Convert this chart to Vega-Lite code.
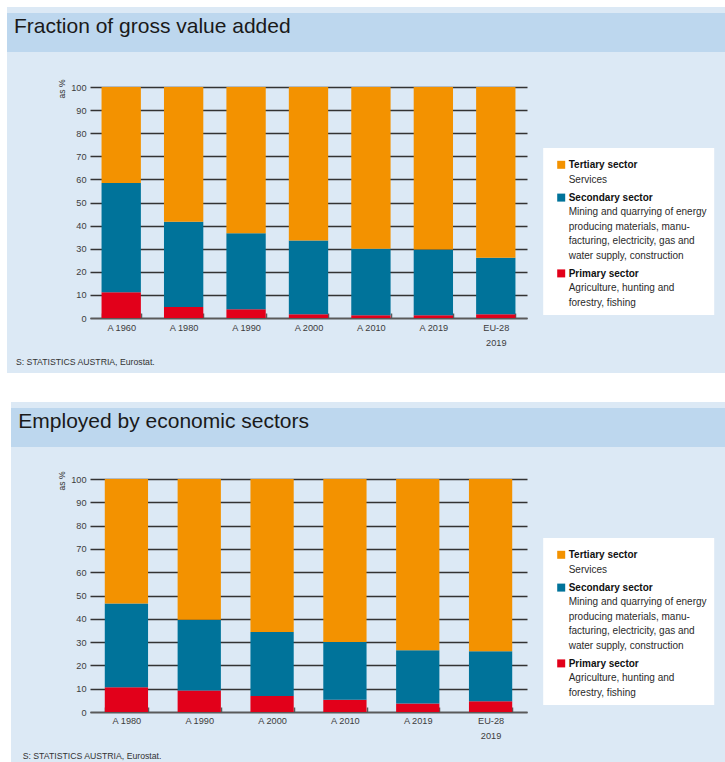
{
  "$schema": "https://vega.github.io/schema/vega-lite/v6.json",
  "background": "#dce9f5",
  "padding": 0,
  "bounds": "flush",
  "spacing": 0,
  "columns": 4,
  "resolve": {"scale": {"color": "independent", "opacity": "independent"}, "legend": {"color": "independent", "opacity": "independent"}},
  "config": {"view": {"stroke": null}, "font": "Liberation Sans"},
  "datasets": {
    "gva": [
      {"period": "A 1960", "sector": "Primary sector", "value": 11.1},
      {"period": "A 1960", "sector": "Secondary sector", "value": 47.3},
      {"period": "A 1960", "sector": "Tertiary sector", "value": 41.6},
      {"period": "A 1980", "sector": "Primary sector", "value": 4.8},
      {"period": "A 1980", "sector": "Secondary sector", "value": 36.9},
      {"period": "A 1980", "sector": "Tertiary sector", "value": 58.3},
      {"period": "A 1990", "sector": "Primary sector", "value": 3.8},
      {"period": "A 1990", "sector": "Secondary sector", "value": 32.9},
      {"period": "A 1990", "sector": "Tertiary sector", "value": 63.3},
      {"period": "A 2000", "sector": "Primary sector", "value": 1.6},
      {"period": "A 2000", "sector": "Secondary sector", "value": 31.9},
      {"period": "A 2000", "sector": "Tertiary sector", "value": 66.5},
      {"period": "A 2010", "sector": "Primary sector", "value": 1.2},
      {"period": "A 2010", "sector": "Secondary sector", "value": 28.8},
      {"period": "A 2010", "sector": "Tertiary sector", "value": 70.0},
      {"period": "A 2019", "sector": "Primary sector", "value": 1.2},
      {"period": "A 2019", "sector": "Secondary sector", "value": 28.4},
      {"period": "A 2019", "sector": "Tertiary sector", "value": 70.4},
      {"period": "EU-28 2019", "sector": "Primary sector", "value": 1.6},
      {"period": "EU-28 2019", "sector": "Secondary sector", "value": 24.5},
      {"period": "EU-28 2019", "sector": "Tertiary sector", "value": 73.9}
    ],
    "emp": [
      {"period": "A 1980", "sector": "Primary sector", "value": 10.6},
      {"period": "A 1980", "sector": "Secondary sector", "value": 36.0},
      {"period": "A 1980", "sector": "Tertiary sector", "value": 53.4},
      {"period": "A 1990", "sector": "Primary sector", "value": 9.2},
      {"period": "A 1990", "sector": "Secondary sector", "value": 30.4},
      {"period": "A 1990", "sector": "Tertiary sector", "value": 60.4},
      {"period": "A 2000", "sector": "Primary sector", "value": 6.9},
      {"period": "A 2000", "sector": "Secondary sector", "value": 27.4},
      {"period": "A 2000", "sector": "Tertiary sector", "value": 65.7},
      {"period": "A 2010", "sector": "Primary sector", "value": 5.3},
      {"period": "A 2010", "sector": "Secondary sector", "value": 24.7},
      {"period": "A 2010", "sector": "Tertiary sector", "value": 70.0},
      {"period": "A 2019", "sector": "Primary sector", "value": 3.7},
      {"period": "A 2019", "sector": "Secondary sector", "value": 22.8},
      {"period": "A 2019", "sector": "Tertiary sector", "value": 73.5},
      {"period": "EU-28 2019", "sector": "Primary sector", "value": 4.6},
      {"period": "EU-28 2019", "sector": "Secondary sector", "value": 21.5},
      {"period": "EU-28 2019", "sector": "Tertiary sector", "value": 73.9}
    ],
    "sectors": [
      {"sector": "Tertiary sector", "desc": "Services"},
      {"sector": "Secondary sector", "desc": "Mining and quarrying of energy producing materials, manufacturing, electricity, gas and water supply, construction"},
      {"sector": "Primary sector", "desc": "Agriculture, hunting and forestry, fishing"}
    ],
    "titles": [
      {"panel": "gva", "title": "Fraction of gross value added", "source": "S: STATISTICS AUSTRIA, Eurostat."},
      {"panel": "emp", "title": "Employed by economic sectors", "source": "S: STATISTICS AUSTRIA, Eurostat."}
    ]
  },
  "concat": [
    {"width": 7, "height": 7, "view": {"fill": "white", "stroke": null}, "data": {"values": []}, "mark": "rect"},
    {"width": 4, "height": 7, "view": {"fill": "white", "stroke": null}, "data": {"values": []}, "mark": "rect"},
    {"width": 79, "height": 7, "view": {"fill": "white", "stroke": null}, "data": {"values": []}, "mark": "rect"},
    {"width": 635, "height": 7, "view": {"fill": "white", "stroke": null}, "data": {"values": []}, "mark": "rect"},

    {"width": 7, "height": 6, "view": {"fill": "white", "stroke": null}, "data": {"values": []}, "mark": "rect"},
    {"width": 4, "height": 6, "data": {"values": []}, "mark": "rect"},
    {"width": 79, "height": 6, "data": {"values": []}, "mark": "rect"},
    {"width": 635, "height": 6, "data": {"values": []}, "mark": "rect"},

    {"width": 7, "height": 39, "view": {"fill": "white", "stroke": null}, "data": {"values": []}, "mark": "rect"},
    {"width": 4, "height": 39, "view": {"fill": "#bdd7ee", "stroke": null}, "data": {"values": []}, "mark": "rect"},
    {"width": 79, "height": 39, "view": {"fill": "#bdd7ee", "stroke": null}, "data": {"values": []}, "mark": "rect"},
    {
      "width": 635, "height": 39, "view": {"fill": "#bdd7ee", "stroke": null},
      "data": {"name": "titles"},
      "transform": [{"filter": "datum.panel == 'gva'"}],
      "mark": {"type": "text", "align": "left", "baseline": "alphabetic", "font": "Liberation Sans", "fontSize": 21, "color": "#1a1a1a", "dx": -76, "dy": 0.5},
      "encoding": {
        "x": {"datum": 0, "type": "quantitative", "scale": {"domain": [0, 1]}, "axis": null},
        "text": {"field": "title"}
      }
    },

    {"width": 7, "height": 35, "view": {"fill": "white", "stroke": null}, "data": {"values": []}, "mark": "rect"},
    {"width": 4, "height": 35, "data": {"values": []}, "mark": "rect"},
    {"width": 79, "height": 35, "data": {"values": []}, "mark": "rect"},
    {"width": 635, "height": 35, "data": {"values": []}, "mark": "rect"},

    {"width": 7, "height": 231, "view": {"fill": "white", "stroke": null}, "data": {"values": []}, "mark": "rect"},
    {"width": 4, "height": 231, "data": {"values": []}, "mark": "rect"},
    {"width": 79, "height": 231, "data": {"values": []}, "mark": "rect"},
    {
      "width": 437, "height": 231,
      "data": {"name": "gva"},
      "transform": [{"lookup": "sector", "from": {"data": {"name": "sectors"}, "key": "sector", "fields": ["desc"]}}],
      "mark": {"type": "bar"},
      "encoding": {
        "x": {"field": "period", "type": "nominal", "sort": null,
          "scale": {"paddingInner": 0.37, "paddingOuter": 0.185},
          "axis": {"title": null, "tickBand": "extent", "domainColor": "#5a5a5a", "domainWidth": 1.5, "tickColor": "#5a5a5a", "tickWidth": 1.5, "tickSize": -5, "labelPadding": 10, "labelAngle": 0, "labelFont": "Liberation Sans", "labelFontSize": 9.2, "labelColor": "#3c3c3c", "labelLineHeight": 15, "labelExpr": "datum.label == 'EU-28 2019' ? ['EU-28', '2019'] : datum.label", "grid": false}},
        "y": {"field": "value", "type": "quantitative", "stack": "zero",
          "scale": {"domain": [0, 100], "nice": false},
          "axis": {"title": "as %", "titleAngle": 270, "titleX": -29, "titleY": 1.5, "titleAlign": "center", "titleBaseline": "middle", "titleFont": "Liberation Sans", "titleFontSize": 8.5, "titleFontWeight": "normal", "titleColor": "#333", "values": [0, 10, 20, 30, 40, 50, 60, 70, 80, 90, 100], "domain": false, "ticks": false, "grid": true, "gridColor": "#333", "gridWidth": 1.3, "labelPadding": 4, "labelFont": "Liberation Sans", "labelFontSize": 9.2, "labelColor": "#3c3c3c"}},
        "color": {"field": "sector", "type": "nominal",
          "scale": {"domain": ["Tertiary sector", "Secondary sector", "Primary sector"], "range": ["#f39200", "#00739a", "#e2001a"]},
          "legend": {"title": null, "orient": "none", "legendX": 453.2, "legendY": 61, "direction": "vertical", "padding": 7, "rowPadding": 2.8, "symbolType": "M-1,0.2H1V2.2H-1Z", "symbolSize": 64, "symbolOffset": 6, "symbolStrokeWidth": 0, "labelOffset": 2.5, "labelFont": "Liberation Sans", "labelFontSize": 10, "labelFontWeight": "bold", "labelBaseline": "top", "labelColor": "#111", "labelLimit": 400, "zindex": 1,
            "encode": {"labels": {"update": {"lineHeight": {"value": 14.5}}}},
            "labelExpr": "datum.label == 'Tertiary sector' ? ['Tertiary sector', ' '] : datum.label == 'Secondary sector' ? ['Secondary sector', ' ', ' ', ' ', ' '] : ['Primary sector', ' ', ' ']"}},
        "opacity": {"field": "desc", "type": "nominal",
          "scale": {"domain": ["Services", "Mining and quarrying of energy producing materials, manufacturing, electricity, gas and water supply, construction", "Agriculture, hunting and forestry, fishing"], "range": [1, 1]},
          "legend": {"title": null, "orient": "none", "legendX": 453.2, "legendY": 61, "direction": "vertical", "padding": 7, "rowPadding": 2.8, "fillColor": "white", "symbolType": "M0,0Z", "symbolSize": 64, "symbolOffset": 6, "symbolStrokeWidth": 0, "symbolFillColor": "transparent", "symbolStrokeColor": "transparent", "labelOffset": 2.5, "labelFont": "Liberation Sans", "labelFontSize": 10, "labelBaseline": "top", "labelColor": "#2a2a2a", "labelLimit": 400, "zindex": 0,
            "encode": {"labels": {"update": {"lineHeight": {"value": 14.5}}}},
            "labelExpr": "datum.label == 'Services' ? [' ', 'Services'] : datum.label == 'Agriculture, hunting and forestry, fishing' ? [' ', 'Agriculture, hunting and', 'forestry, fishing'] : [' ', 'Mining and quarrying of energy', 'producing materials, manu-', 'facturing, electricity, gas and', 'water supply, construction']"}},
        "order": {"field": "sector", "sort": "ascending"}
      }
    },

    {"width": 7, "height": 55, "view": {"fill": "white", "stroke": null}, "data": {"values": []}, "mark": "rect"},
    {
      "width": 4, "height": 55,
      "data": {"name": "titles"},
      "transform": [{"filter": "datum.panel == 'gva'"}],
      "mark": {"type": "text", "align": "left", "baseline": "middle", "font": "Liberation Sans", "fontSize": 8.7, "color": "#333", "dx": 9, "dy": 16.5},
      "encoding": {
        "x": {"datum": 0, "type": "quantitative", "scale": {"domain": [0, 1]}, "axis": null},
        "text": {"field": "source"}
      }
    },
    {"width": 79, "height": 55, "data": {"values": []}, "mark": "rect"},
    {"width": 635, "height": 55, "data": {"values": []}, "mark": "rect"},

    {"width": 7, "height": 29, "view": {"fill": "white", "stroke": null}, "data": {"values": []}, "mark": "rect"},
    {"width": 4, "height": 29, "view": {"fill": "white", "stroke": null}, "data": {"values": []}, "mark": "rect"},
    {"width": 79, "height": 29, "view": {"fill": "white", "stroke": null}, "data": {"values": []}, "mark": "rect"},
    {"width": 635, "height": 29, "view": {"fill": "white", "stroke": null}, "data": {"values": []}, "mark": "rect"},

    {"width": 7, "height": 6, "view": {"fill": "white", "stroke": null}, "data": {"values": []}, "mark": "rect"},
    {"width": 4, "height": 6, "view": {"fill": "white", "stroke": null}, "data": {"values": []}, "mark": "rect"},
    {"width": 79, "height": 6, "data": {"values": []}, "mark": "rect"},
    {"width": 635, "height": 6, "data": {"values": []}, "mark": "rect"},

    {"width": 7, "height": 39, "view": {"fill": "white", "stroke": null}, "data": {"values": []}, "mark": "rect"},
    {"width": 4, "height": 39, "view": {"fill": "white", "stroke": null}, "data": {"values": []}, "mark": "rect"},
    {"width": 79, "height": 39, "view": {"fill": "#bdd7ee", "stroke": null}, "data": {"values": []}, "mark": "rect"},
    {
      "width": 635, "height": 39, "view": {"fill": "#bdd7ee", "stroke": null},
      "data": {"name": "titles"},
      "transform": [{"filter": "datum.panel == 'emp'"}],
      "mark": {"type": "text", "align": "left", "baseline": "alphabetic", "font": "Liberation Sans", "fontSize": 21, "color": "#1a1a1a", "dx": -71.7, "dy": 0.5},
      "encoding": {
        "x": {"datum": 0, "type": "quantitative", "scale": {"domain": [0, 1]}, "axis": null},
        "text": {"field": "title"}
      }
    },

    {"width": 7, "height": 32, "view": {"fill": "white", "stroke": null}, "data": {"values": []}, "mark": "rect"},
    {"width": 4, "height": 32, "view": {"fill": "white", "stroke": null}, "data": {"values": []}, "mark": "rect"},
    {"width": 79, "height": 32, "data": {"values": []}, "mark": "rect"},
    {"width": 635, "height": 32, "data": {"values": []}, "mark": "rect"},

    {"width": 7, "height": 233, "view": {"fill": "white", "stroke": null}, "data": {"values": []}, "mark": "rect"},
    {"width": 4, "height": 233, "view": {"fill": "white", "stroke": null}, "data": {"values": []}, "mark": "rect"},
    {"width": 79, "height": 233, "data": {"values": []}, "mark": "rect"},
    {
      "width": 437, "height": 233,
      "data": {"name": "emp"},
      "transform": [{"lookup": "sector", "from": {"data": {"name": "sectors"}, "key": "sector", "fields": ["desc"]}}],
      "mark": {"type": "bar"},
      "encoding": {
        "x": {"field": "period", "type": "nominal", "sort": null,
          "scale": {"paddingInner": 0.406, "paddingOuter": 0.203},
          "axis": {"title": null, "tickBand": "extent", "domainColor": "#5a5a5a", "domainWidth": 1.5, "tickColor": "#5a5a5a", "tickWidth": 1.5, "tickSize": -5, "labelPadding": 9, "labelAngle": 0, "labelFont": "Liberation Sans", "labelFontSize": 9.2, "labelColor": "#3c3c3c", "labelLineHeight": 15, "labelExpr": "datum.label == 'EU-28 2019' ? ['EU-28', '2019'] : datum.label", "grid": false}},
        "y": {"field": "value", "type": "quantitative", "stack": "zero",
          "scale": {"domain": [0, 100], "nice": false},
          "axis": {"title": "as %", "titleAngle": 270, "titleX": -29, "titleY": 1.5, "titleAlign": "center", "titleBaseline": "middle", "titleFont": "Liberation Sans", "titleFontSize": 8.5, "titleFontWeight": "normal", "titleColor": "#333", "values": [0, 10, 20, 30, 40, 50, 60, 70, 80, 90, 100], "domain": false, "ticks": false, "grid": true, "gridColor": "#333", "gridWidth": 1.3, "labelPadding": 4, "labelFont": "Liberation Sans", "labelFontSize": 9.2, "labelColor": "#3c3c3c"}},
        "color": {"field": "sector", "type": "nominal",
          "scale": {"domain": ["Tertiary sector", "Secondary sector", "Primary sector"], "range": ["#f39200", "#00739a", "#e2001a"]},
          "legend": {"title": null, "orient": "none", "legendX": 453.2, "legendY": 59, "direction": "vertical", "padding": 7, "rowPadding": 2.8, "symbolType": "M-1,0.2H1V2.2H-1Z", "symbolSize": 64, "symbolOffset": 6, "symbolStrokeWidth": 0, "labelOffset": 2.5, "labelFont": "Liberation Sans", "labelFontSize": 10, "labelFontWeight": "bold", "labelBaseline": "top", "labelColor": "#111", "labelLimit": 400, "zindex": 1,
            "encode": {"labels": {"update": {"lineHeight": {"value": 14.5}}}},
            "labelExpr": "datum.label == 'Tertiary sector' ? ['Tertiary sector', ' '] : datum.label == 'Secondary sector' ? ['Secondary sector', ' ', ' ', ' ', ' '] : ['Primary sector', ' ', ' ']"}},
        "opacity": {"field": "desc", "type": "nominal",
          "scale": {"domain": ["Services", "Mining and quarrying of energy producing materials, manufacturing, electricity, gas and water supply, construction", "Agriculture, hunting and forestry, fishing"], "range": [1, 1]},
          "legend": {"title": null, "orient": "none", "legendX": 453.2, "legendY": 59, "direction": "vertical", "padding": 7, "rowPadding": 2.8, "fillColor": "white", "symbolType": "M0,0Z", "symbolSize": 64, "symbolOffset": 6, "symbolStrokeWidth": 0, "symbolFillColor": "transparent", "symbolStrokeColor": "transparent", "labelOffset": 2.5, "labelFont": "Liberation Sans", "labelFontSize": 10, "labelBaseline": "top", "labelColor": "#2a2a2a", "labelLimit": 400, "zindex": 0,
            "encode": {"labels": {"update": {"lineHeight": {"value": 14.5}}}},
            "labelExpr": "datum.label == 'Services' ? [' ', 'Services'] : datum.label == 'Agriculture, hunting and forestry, fishing' ? [' ', 'Agriculture, hunting and', 'forestry, fishing'] : [' ', 'Mining and quarrying of energy', 'producing materials, manu-', 'facturing, electricity, gas and', 'water supply, construction']"}},
        "order": {"field": "sector", "sort": "ascending"}
      }
    },

    {"width": 7, "height": 50, "view": {"fill": "white", "stroke": null}, "data": {"values": []}, "mark": "rect"},
    {"width": 4, "height": 50, "view": {"fill": "white", "stroke": null}, "data": {"values": []}, "mark": "rect"},
    {
      "width": 79, "height": 50,
      "data": {"name": "titles"},
      "transform": [{"filter": "datum.panel == 'emp'"}],
      "mark": {"type": "text", "align": "left", "baseline": "middle", "font": "Liberation Sans", "fontSize": 8.7, "color": "#333", "dx": 11.7, "dy": 19},
      "encoding": {
        "x": {"datum": 0, "type": "quantitative", "scale": {"domain": [0, 1]}, "axis": null},
        "text": {"field": "source"}
      }
    },
    {"width": 635, "height": 50, "data": {"values": []}, "mark": "rect"}
  ]
}
